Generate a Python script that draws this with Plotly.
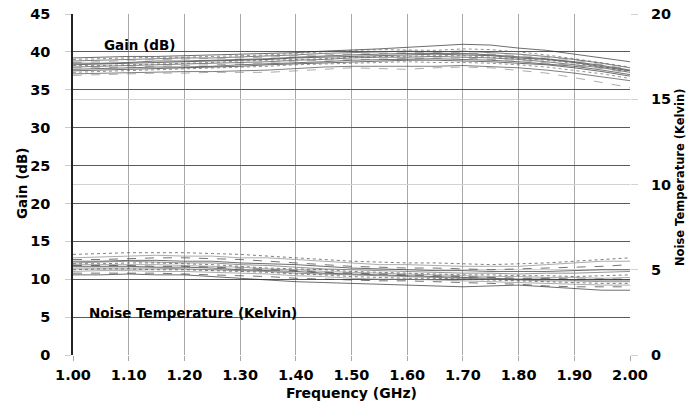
import plotly.graph_objects as go

freq = [1.00, 1.05, 1.10, 1.15, 1.20, 1.25, 1.30, 1.35, 1.40, 1.45, 1.50,
        1.55, 1.60, 1.65, 1.70, 1.75, 1.80, 1.85, 1.90, 1.95, 2.00]

gain_1 = [39.2,39.3,39.4,39.4,39.5,39.6,39.7,39.8,39.9,40.1,40.2,40.4,40.6,40.8,41.0,40.9,40.5,40.2,39.7,39.2,38.7]
gain_2 = [39.0,39.1,39.2,39.3,39.3,39.4,39.5,39.6,39.8,40.0,40.2,40.3,40.3,40.2,40.4,40.3,40.0,39.6,39.1,38.6,38.0]
gain_3 = [38.8,38.9,39.0,39.1,39.2,39.2,39.3,39.5,39.6,39.8,39.9,40.0,40.1,40.0,40.1,39.9,39.7,39.4,39.0,38.5,37.9]
gain_4 = [38.6,38.7,38.9,39.0,39.0,39.1,39.2,39.3,39.5,39.6,39.7,39.8,39.9,39.9,39.9,39.7,39.5,39.3,38.9,38.3,37.7]
gain_5 = [38.5,38.5,38.6,38.8,38.8,38.9,39.0,39.1,39.3,39.5,39.6,39.7,39.8,39.8,39.8,39.6,39.4,39.1,38.7,38.2,37.6]
gain_6 = [38.3,38.4,38.5,38.6,38.7,38.8,38.9,39.0,39.2,39.3,39.4,39.5,39.6,39.7,39.6,39.5,39.2,39.0,38.6,38.1,37.5]
gain_7 = [38.2,38.2,38.3,38.4,38.5,38.6,38.8,38.9,39.0,39.1,39.3,39.4,39.5,39.5,39.5,39.3,39.1,38.9,38.5,38.0,37.4]
gain_8 = [38.0,38.1,38.2,38.3,38.4,38.5,38.6,38.7,38.9,39.0,39.2,39.3,39.3,39.4,39.3,39.2,39.0,38.7,38.3,37.9,37.3]
gain_9 = [37.9,37.9,38.0,38.1,38.2,38.3,38.4,38.6,38.8,38.9,39.0,39.1,39.2,39.2,39.2,39.0,38.9,38.6,38.2,37.8,37.2]
gain_10 = [37.7,37.8,37.9,38.0,38.0,38.1,38.3,38.4,38.6,38.7,38.9,39.0,39.0,39.1,39.0,38.9,38.7,38.4,38.1,37.6,37.0]
gain_11 = [37.5,37.6,37.7,37.8,37.9,38.0,38.1,38.3,38.4,38.6,38.7,38.8,38.9,38.9,38.8,38.7,38.5,38.3,37.9,37.4,36.8]
gain_12 = [37.3,37.4,37.5,37.6,37.7,37.8,37.9,38.1,38.3,38.4,38.5,38.6,38.7,38.6,38.6,38.5,38.3,38.0,37.6,37.1,36.5]
gain_13 = [37.1,37.2,37.3,37.3,37.4,37.4,37.5,37.6,37.8,38.0,38.1,38.1,38.0,38.1,38.2,38.1,37.9,37.6,37.2,36.7,36.2]
gain_14 = [36.9,37.0,37.1,37.2,37.2,37.3,37.3,37.3,37.5,37.7,37.9,37.8,37.7,37.9,38.0,37.9,37.6,37.2,36.6,36.0,35.3]

noise_1 = [5.9,5.95,6.0,6.0,6.0,5.95,5.9,5.8,5.7,5.6,5.5,5.45,5.4,5.4,5.35,5.3,5.35,5.4,5.5,5.6,5.7]
noise_2 = [5.7,5.75,5.8,5.85,5.8,5.8,5.7,5.7,5.6,5.5,5.4,5.3,5.3,5.25,5.2,5.2,5.2,5.3,5.4,5.5,5.5]
noise_3 = [5.6,5.6,5.65,5.7,5.7,5.65,5.6,5.5,5.4,5.3,5.2,5.15,5.1,5.1,5.05,5.0,5.05,5.1,5.15,5.2,5.3]
noise_4 = [5.5,5.5,5.55,5.55,5.5,5.5,5.4,5.35,5.3,5.2,5.1,5.05,5.0,4.95,4.95,4.9,4.9,4.9,4.95,5.0,5.0]
noise_5 = [5.4,5.45,5.5,5.45,5.4,5.4,5.3,5.25,5.15,5.05,5.0,4.95,4.9,4.85,4.8,4.8,4.75,4.8,4.8,4.85,4.9]
noise_6 = [5.35,5.35,5.4,5.4,5.35,5.3,5.2,5.1,5.05,5.0,4.9,4.85,4.8,4.75,4.7,4.7,4.65,4.65,4.6,4.65,4.7]
noise_7 = [5.3,5.3,5.3,5.3,5.25,5.2,5.15,5.05,5.0,4.9,4.85,4.8,4.75,4.7,4.65,4.6,4.6,4.55,4.55,4.5,4.55]
noise_8 = [5.25,5.25,5.25,5.2,5.2,5.15,5.1,5.0,4.95,4.85,4.8,4.75,4.7,4.65,4.6,4.55,4.5,4.5,4.45,4.45,4.45]
noise_9 = [5.2,5.2,5.2,5.15,5.15,5.1,5.0,4.95,4.9,4.8,4.75,4.7,4.65,4.6,4.55,4.5,4.45,4.45,4.4,4.4,4.4]
noise_10 = [5.1,5.1,5.1,5.1,5.05,5.0,4.95,4.9,4.8,4.75,4.7,4.65,4.6,4.55,4.5,4.45,4.4,4.35,4.35,4.3,4.3]
noise_11 = [5.0,5.05,5.05,5.0,5.0,4.95,4.9,4.85,4.75,4.7,4.6,4.55,4.5,4.5,4.45,4.4,4.35,4.3,4.25,4.2,4.2]
noise_12 = [4.9,4.95,4.95,4.9,4.9,4.85,4.8,4.75,4.65,4.6,4.5,4.45,4.45,4.4,4.35,4.3,4.25,4.2,4.15,4.1,4.1]
noise_13 = [4.8,4.8,4.8,4.8,4.75,4.7,4.65,4.6,4.5,4.45,4.4,4.35,4.35,4.3,4.25,4.2,4.15,4.05,4.0,4.0,4.0]
noise_14 = [4.7,4.7,4.75,4.7,4.7,4.6,4.5,4.4,4.3,4.25,4.2,4.15,4.1,4.05,4.0,4.05,4.1,4.0,3.9,3.8,3.8]

gain_series = [gain_1, gain_2, gain_3, gain_4, gain_5, gain_6, gain_7,
               gain_8, gain_9, gain_10, gain_11, gain_12, gain_13, gain_14]
noise_series = [noise_1, noise_2, noise_3, noise_4, noise_5, noise_6, noise_7,
                noise_8, noise_9, noise_10, noise_11, noise_12, noise_13, noise_14]

x_ticks = [1.0, 1.1, 1.2, 1.3, 1.4, 1.5, 1.6, 1.7, 1.8, 1.9, 2.0]
gain_ticks = [0, 5, 10, 15, 20, 25, 30, 35, 40, 45]
noise_ticks = [0, 5, 10, 15, 20]

FONT = "DejaVu Sans"
dashes = ["solid", "dot", "solid", "dash", "solid"]
shades = ["#2e2e2e", "#666666", "#474747", "#888888", "#3a3a3a"]

fig = go.Figure()
for i, g in enumerate(gain_series):
    fig.add_trace(go.Scatter(x=freq, y=g, mode="lines", yaxis="y",
                             line=dict(color=shades[i % 5], width=0.7, dash=dashes[i % 5]),
                             showlegend=False, hoverinfo="skip"))
for i, n in enumerate(noise_series):
    fig.add_trace(go.Scatter(x=freq, y=n, mode="lines", yaxis="y2",
                             line=dict(color=shades[(i + 2) % 5], width=0.7, dash=dashes[(i + 1) % 5]),
                             showlegend=False, hoverinfo="skip"))

tickfont = dict(family=FONT, size=14.5, color="black", weight="bold")
titlefont = dict(family=FONT, size=13.5, color="black", weight="bold")

fig.update_layout(
    width=693, height=405,
    margin=dict(l=73, r=63, t=14, b=50),
    plot_bgcolor="white", paper_bgcolor="white",
    xaxis=dict(range=[1.0, 2.0], tickvals=x_ticks, ticktext=[f"{v:.2f}" for v in x_ticks],
               showgrid=True, gridcolor="#a8a8a8", gridwidth=1,
               ticks="outside", ticklen=5, tickcolor="#a8a8a8",
               zeroline=False, showline=False, tickfont=tickfont,
               automargin=False, ticklabelstandoff=2),
    yaxis=dict(range=[0, 45], tickvals=gain_ticks, showgrid=True, gridcolor="#5a5a5a", gridwidth=1,
               zeroline=False, showline=True, linecolor="#222222", linewidth=1.5,
               ticks="outside", ticklen=6, tickcolor="#cccccc", tickfont=tickfont,
               automargin=False, ticklabelstandoff=12),
    yaxis2=dict(range=[0, 20], tickvals=noise_ticks, overlaying="y", side="right",
                showgrid=True, gridcolor="#d2d2d2", gridwidth=1, zeroline=False, showline=False,
                ticks="outside", ticklen=7, tickcolor="#d2d2d2", tickfont=tickfont,
                automargin=False, ticklabelstandoff=10),
    annotations=[
        dict(x=1.12, y=40.9, xref="x", yref="y", text="Gain (dB)", showarrow=False,
             font=titlefont),
        dict(x=1.215, y=5.6, xref="x", yref="y", text="Noise Temperature (Kelvin)", showarrow=False,
             font=titlefont),
        dict(x=0.5, y=(355 - 393) / 341, xref="paper", yref="paper", xanchor="center", yanchor="middle",
             text="Frequency (GHz)", showarrow=False, font=dict(family=FONT, size=14, color="black", weight="bold")),
        dict(x=-51 / 557, y=(355 - 184) / 341, xref="paper", yref="paper", xanchor="center", yanchor="middle",
             text="Gain (dB)", textangle=-90, showarrow=False, font=titlefont),
        dict(x=1 + 50 / 557, y=(355 - 178) / 341, xref="paper", yref="paper", xanchor="center", yanchor="middle",
             text="Noise Temperature (Kelvin)", textangle=-90, showarrow=False,
             font=dict(family=FONT, size=11.5, color="black", weight="bold")),
    ],
)

fig.write_html("out.html", config={"displayModeBar": False},
               post_script="document.body.style.margin='0px';")
